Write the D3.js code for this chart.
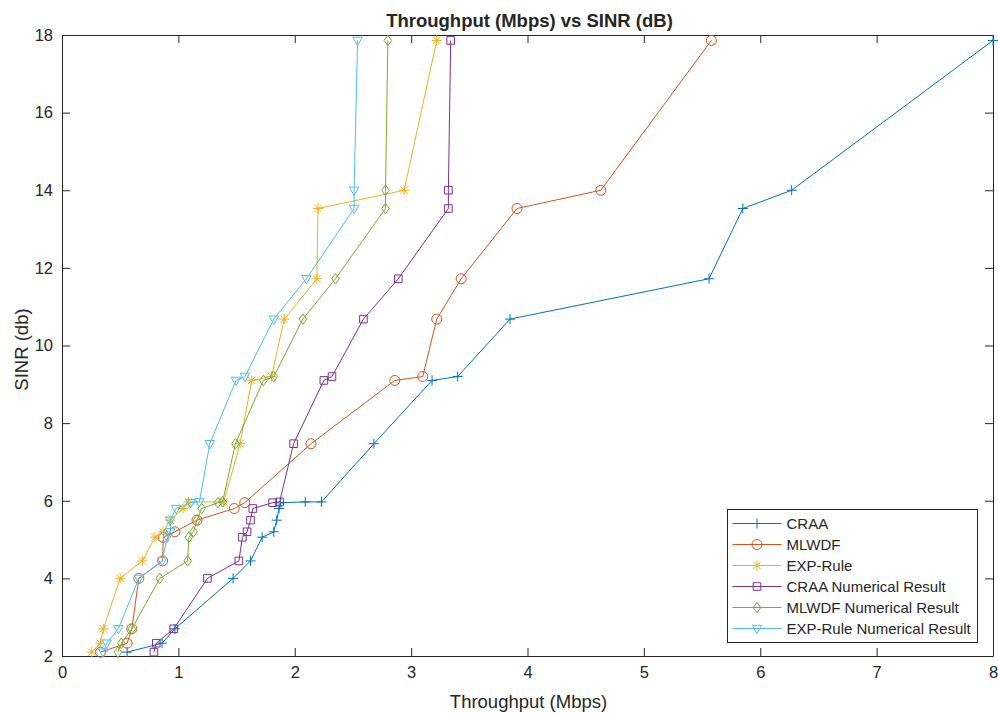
<!DOCTYPE html>
<html>
<head>
<meta charset="utf-8">
<script src="https://cdn.jsdelivr.net/npm/d3@7"></script>
<style>
  body { margin: 0; background: #fff; }
  text { font-family: "Liberation Sans", Arial, sans-serif; fill: #262626; }
</style>
</head>
<body>
<script>
// data (throughput in Mbps, SINR in dB)
const seriesNames = ['CRAA', 'MLWDF', 'EXP-Rule', 'CRAA Numerical Result', 'MLWDF Numerical Result', 'EXP-Rule Numerical Result'];

const tputCRAA = [0.56, 0.86, 0.97, 1.47, 1.62, 1.72, 1.82, 1.845, 1.865, 1.88, 2.09, 2.23, 2.68, 3.18, 3.40, 3.85, 5.56, 5.85, 6.27, 8.0];
const sinrCRAA = [2.1, 2.33, 2.7, 4.0, 4.45, 5.06, 5.2, 5.5, 5.8, 5.95, 5.97, 5.97, 7.47, 9.1, 9.2, 10.68, 11.72, 13.53, 14.0, 17.86];

const tputMLWDF = [0.33, 0.56, 0.60, 0.66, 0.865, 0.87, 0.97, 1.16, 1.48, 1.57, 2.14, 2.86, 3.10, 3.22, 3.43, 3.91, 4.63, 5.58];
const sinrMLWDF = [2.1, 2.33, 2.7, 4.0, 4.45, 5.06, 5.2, 5.5, 5.8, 5.95, 7.47, 9.1, 9.2, 10.68, 11.72, 13.53, 14.0, 17.86];

const tputEXP = [0.255, 0.33, 0.355, 0.50, 0.69, 0.80, 0.87, 0.93, 1.04, 1.085, 1.39, 1.53, 1.63, 1.80, 1.91, 2.19, 2.20, 2.94, 3.22];
const sinrEXP = [2.1, 2.33, 2.7, 4.0, 4.45, 5.06, 5.2, 5.5, 5.8, 5.97, 5.97, 7.47, 9.1, 9.2, 10.68, 11.72, 13.53, 14.0, 17.86];

const sinrNum = [2.1, 2.33, 2.7, 4.0, 4.45, 5.06, 5.2, 5.5, 5.8, 5.95, 5.97, 7.47, 9.1, 9.2, 10.68, 11.72, 13.53, 14.0, 17.86];
const tputCRAANum = [0.79, 0.81, 0.96, 1.25, 1.52, 1.55, 1.59, 1.62, 1.64, 1.81, 1.87, 1.99, 2.25, 2.32, 2.59, 2.89, 3.32, 3.32, 3.34];
const tputMLWDFNum = [0.48, 0.51, 0.60, 0.84, 1.08, 1.09, 1.13, 1.16, 1.20, 1.34, 1.38, 1.49, 1.73, 1.82, 2.07, 2.35, 2.78, 2.78, 2.80];
const tputEXPNum = [0.355, 0.384, 0.484, 0.66, 0.86, 0.905, 0.93, 0.93, 0.98, 1.105, 1.18, 1.27, 1.495, 1.572, 1.82, 2.10, 2.51, 2.51, 2.54];

const xTicks = [0, 1, 2, 3, 4, 5, 6, 7, 8];
const yTicks = [2, 4, 6, 8, 10, 12, 14, 16, 18];

const colors = ['#0072BD', '#D95319', '#EDB120', '#7E2F8E', '#77AC30', '#4DBEEE'];
const markers = ['plus', 'circle', 'star', 'square', 'diamond', 'triangleDown'];

const series = [
    { x: tputCRAA, y: sinrCRAA },
    { x: tputMLWDF, y: sinrMLWDF },
    { x: tputEXP, y: sinrEXP },
    { x: tputCRAANum, y: sinrNum },
    { x: tputMLWDFNum, y: sinrNum },
    { x: tputEXPNum, y: sinrNum }
].map((s, i) => ({
    name: seriesNames[i],
    color: colors[i],
    marker: markers[i],
    points: s.x.map((v, j) => [v, s.y[j]])
}));

const width = 998;
const height = 713;
const margin = { top: 35, right: 5, bottom: 57, left: 62 };
const plotW = width - margin.left - margin.right;
const plotH = height - margin.top - margin.bottom;
const axisColor = '#262626';
const tickLen = 8;

function markerPath(type) {
    const p = d3.path();
    if (type === 'plus') {
        p.moveTo(-5, 0); p.lineTo(5, 0);
        p.moveTo(0, -5); p.lineTo(0, 5);
    } else if (type === 'circle') {
        p.moveTo(5, 0); p.arc(0, 0, 5, 0, 2 * Math.PI);
    } else if (type === 'star') {
        const a = 3.8;
        p.moveTo(-5, 0); p.lineTo(5, 0);
        p.moveTo(0, -5); p.lineTo(0, 5);
        p.moveTo(-a, -a); p.lineTo(a, a);
        p.moveTo(-a, a); p.lineTo(a, -a);
    } else if (type === 'square') {
        p.rect(-3.8, -3.8, 7.6, 7.6);
    } else if (type === 'diamond') {
        p.moveTo(0, -5.3); p.lineTo(3.8, 0); p.lineTo(0, 5.3); p.lineTo(-3.8, 0); p.closePath();
    } else if (type === 'triangleDown') {
        p.moveTo(-4.8, -3.2); p.lineTo(4.8, -3.2); p.lineTo(0, 5.2); p.closePath();
    }
    return p.toString();
}

const svg = d3.select('body').append('svg')
    .attr('width', width)
    .attr('height', height);

const x = d3.scaleLinear().domain([0, 8]).range([0, plotW]);
const y = d3.scaleLinear().domain([2, 18]).range([plotH, 0]);

const g = svg.append('g').attr('transform', `translate(${margin.left},${margin.top})`);

// axes (ticks pointing inward, box on)
function styleAxis(sel) {
    sel.select('.domain').attr('stroke', axisColor);
    sel.selectAll('.tick line').attr('stroke', axisColor);
    sel.selectAll('.tick text').style('font-size', '16.5px').attr('fill', axisColor);
}

g.append('g')
    .attr('transform', `translate(0,${plotH})`)
    .call(d3.axisBottom(x).tickValues(xTicks).tickSizeInner(-tickLen).tickSizeOuter(0).tickPadding(10))
    .call(styleAxis);

g.append('g')
    .call(d3.axisLeft(y).tickValues(yTicks).tickSizeInner(-tickLen).tickSizeOuter(0).tickPadding(9))
    .call(styleAxis);

g.append('g')
    .call(d3.axisTop(x).tickValues(xTicks).tickSizeInner(-tickLen).tickSizeOuter(0).tickFormat(''))
    .call(styleAxis);

g.append('g')
    .attr('transform', `translate(${plotW},0)`)
    .call(d3.axisRight(y).tickValues(yTicks).tickSizeInner(-tickLen).tickSizeOuter(0).tickFormat(''))
    .call(styleAxis);

g.selectAll('.domain').attr('fill', 'none');

// lines and markers
const line = d3.line().x(d => x(d[0])).y(d => y(d[1]));

const seriesG = g.selectAll('.series')
    .data(series)
  .enter()
    .append('g')
    .attr('class', 'series');

seriesG.append('path')
    .attr('d', d => line(d.points))
    .attr('fill', 'none')
    .attr('stroke', d => d.color)
    .attr('stroke-width', 1);

seriesG.each(function (s) {
    d3.select(this).selectAll('.marker')
        .data(s.points)
      .enter()
        .append('path')
        .attr('class', 'marker')
        .attr('transform', d => `translate(${x(d[0])},${y(d[1])})`)
        .attr('d', markerPath(s.marker))
        .attr('fill', 'none')
        .attr('stroke', s.color)
        .attr('stroke-width', 1);
});

// title and labels
svg.append('text')
    .attr('x', margin.left + plotW / 2 + 2)
    .attr('y', 27)
    .attr('text-anchor', 'middle')
    .style('font-size', '18.5px')
    .style('font-weight', 'bold')
    .attr('fill', '#000')
    .text('Throughput (Mbps) vs SINR (dB)');

svg.append('text')
    .attr('x', margin.left + plotW / 2 + 1)
    .attr('y', 708)
    .attr('text-anchor', 'middle')
    .style('font-size', '18.5px')
    .text('Throughput (Mbps)');

svg.append('text')
    .attr('transform', `translate(28,${margin.top + plotH / 2 + 4}) rotate(-90)`)
    .attr('text-anchor', 'middle')
    .style('font-size', '18.5px')
    .text('SINR (db)');

// legend
const legend = svg.append('g').attr('transform', 'translate(727.5,509.5)');
const legendW = 250;
const rowH = 21;

legend.append('rect')
    .attr('width', legendW)
    .attr('height', 133)
    .attr('fill', '#fff')
    .attr('stroke', axisColor)
    .attr('stroke-width', 1);

const rows = legend.selectAll('.legend-row')
    .data(series)
  .enter()
    .append('g')
    .attr('class', 'legend-row')
    .attr('transform', (d, i) => `translate(0,${14 + i * rowH})`);

rows.append('line')
    .attr('x1', 5).attr('x2', 54)
    .attr('stroke', d => d.color)
    .attr('stroke-width', 1);

rows.append('path')
    .attr('transform', 'translate(29.5,0)')
    .attr('d', d => markerPath(d.marker))
    .attr('fill', 'none')
    .attr('stroke', d => d.color)
    .attr('stroke-width', 1);

rows.append('text')
    .attr('x', 59)
    .attr('dy', '0.35em')
    .style('font-size', '15px')
    .attr('fill', '#000')
    .text(d => d.name);
</script>
</body>
</html>
